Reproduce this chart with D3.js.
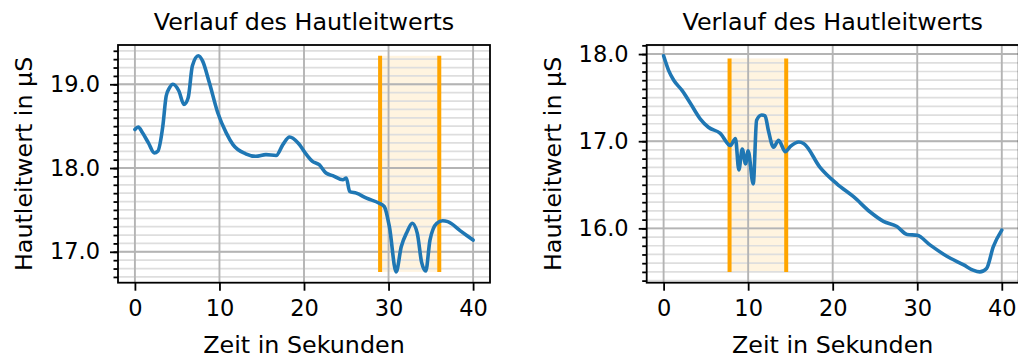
<!DOCTYPE html>
<html>
<head>
<meta charset="utf-8">
<script src="https://cdn.jsdelivr.net/npm/d3@7"></script>
<style>
  body { margin: 0; background: #fff; }
  text { font-family: "DejaVu Sans", sans-serif; fill: #000; }
</style>
</head>
<body>
<svg id="chart" width="1018" height="358"></svg>
<script>
// Werte
const xTicks = [0, 10, 20, 30, 40];

// linker Plot
const leftTime  = [0, 0.4, 0.9, 1.6, 2.3, 2.7, 3.3, 3.7, 4.1, 4.5, 5.2, 5.8, 6.3, 6.8, 7.5, 8.0, 8.8, 9.8, 10.8, 11.6, 13.1, 14.3, 15.5, 16.7, 17.5, 18.3, 19.3, 20.3, 21.0, 21.8, 22.6, 23.4, 24.6, 25.0, 25.4, 26.2, 27.4, 28.9, 29.5, 30.1, 30.9, 31.5, 32.2, 32.8, 33.4, 33.9, 34.4, 34.9, 35.7, 36.4, 37.0, 38.5, 40];
const leftValue = [18.46, 18.49, 18.42, 18.30, 18.18, 18.20, 18.50, 18.86, 18.96, 19.00, 18.92, 18.76, 18.84, 19.22, 19.34, 19.28, 19.02, 18.66, 18.42, 18.28, 18.17, 18.14, 18.16, 18.15, 18.28, 18.37, 18.30, 18.16, 18.08, 18.04, 17.94, 17.91, 17.86, 17.88, 17.72, 17.70, 17.64, 17.58, 17.54, 17.30, 16.76, 17.06, 17.24, 17.34, 17.22, 16.88, 16.77, 17.14, 17.34, 17.37, 17.36, 17.25, 17.14];
const leftYTicks = [17.0, 18.0, 19.0];
const leftMarks = [29, 36];
const leftSpan = [16.76, 19.34];

// rechter Plot
const rightTime  = [0, 0.6, 1.2, 2.2, 3.2, 4.3, 5.3, 6.7, 7.9, 8.5, 8.9, 9.3, 9.7, 10.0, 10.6, 11.0, 11.6, 12.0, 12.4, 13.0, 13.6, 14.4, 15.0, 16.0, 16.6, 18.5, 20.5, 22.5, 24.4, 26.0, 27.6, 28.8, 30.0, 31.5, 33.5, 35.5, 36.6, 37.4, 38.2, 39.0, 40];
const rightValue = [17.98, 17.81, 17.70, 17.58, 17.43, 17.26, 17.16, 17.09, 16.95, 17.03, 16.67, 16.91, 16.74, 16.89, 16.51, 17.24, 17.30, 17.29, 17.12, 16.93, 17.01, 16.88, 16.94, 16.99, 16.97, 16.70, 16.51, 16.36, 16.19, 16.08, 16.02, 15.93, 15.92, 15.81, 15.68, 15.58, 15.52, 15.50, 15.54, 15.79, 15.98];
const rightYTicks = [16.0, 17.0, 18.0];
const rightMarks = [7.8, 14.5];
const rightSpan = [15.50, 17.95];

const svg = d3.select("#chart");

function padded(ext) {
    const p = (ext[1] - ext[0]) * 0.05;
    return [ext[0] - p, ext[1] + p];
}

function drawPanel(left, time, value, yTicks, marks, span) {
    const w = 372, top = 45, bottom = 282.7;
    const right = left + w;
    const x = d3.scaleLinear().domain(padded(d3.extent(time))).range([left, right]);
    const y = d3.scaleLinear().domain(padded(d3.extent(value))).range([bottom, top]);
    const g = svg.append("g");

    // Markierter Bereich
    g.append("rect")
        .attr("x", x(marks[0]))
        .attr("y", y(span[1]))
        .attr("width", x(marks[1]) - x(marks[0]))
        .attr("height", y(span[0]) - y(span[1]))
        .style("fill", "orange")
        .style("opacity", 0.12);

    // Nebengitter
    const minor = d3.range(Math.ceil(y.domain()[0] * 10), Math.floor(y.domain()[1] * 10) + 1).map(d => d / 10);
    g.selectAll(".minor-grid")
        .data(minor)
        .join("line")
        .attr("x1", left).attr("x2", right)
        .attr("y1", d => y(d)).attr("y2", d => y(d))
        .style("stroke", "#dedede")
        .style("stroke-width", 1.7);

    // Hauptgitter
    g.selectAll(".ygrid")
        .data(yTicks)
        .join("line")
        .attr("x1", left).attr("x2", right)
        .attr("y1", d => y(d)).attr("y2", d => y(d))
        .style("stroke", "#b4b4b4")
        .style("stroke-width", 1.9);
    g.selectAll(".xgrid")
        .data(xTicks)
        .join("line")
        .attr("x1", d => x(d)).attr("x2", d => x(d))
        .attr("y1", top).attr("y2", bottom)
        .style("stroke", "#b4b4b4")
        .style("stroke-width", 1.9);

    // orange Linien
    g.selectAll(".mark")
        .data(marks)
        .join("line")
        .attr("x1", d => x(d)).attr("x2", d => x(d))
        .attr("y1", y(span[0])).attr("y2", y(span[1]))
        .style("stroke", "orange")
        .style("stroke-width", 4);

    const line = d3.line()
        .x(d => x(d[0]))
        .y(d => y(d[1]))
        .curve(d3.curveMonotoneX);

    g.append("path")
        .datum(d3.zip(time, value))
        .attr("d", line)
        .style("fill", "none")
        .style("stroke", "#1f77b4")
        .style("stroke-width", 3.6)
        .style("stroke-linejoin", "round")
        .style("stroke-linecap", "round");

    // Rahmen
    g.append("rect")
        .attr("x", left).attr("y", top)
        .attr("width", w).attr("height", bottom - top)
        .style("fill", "none")
        .style("stroke", "#000")
        .style("stroke-width", 1.8);

    // Achsen
    const xAxis = g.append("g")
        .attr("transform", `translate(0,${bottom})`)
        .call(d3.axisBottom(x).tickValues(xTicks).tickSize(8).tickPadding(9).tickFormat(d3.format("d")));
    const yAxis = g.append("g")
        .attr("transform", `translate(${left},0)`)
        .call(d3.axisLeft(y).tickValues(yTicks).tickSize(8).tickPadding(10).tickFormat(d3.format(".1f")));
    g.append("g")
        .attr("transform", `translate(${left},0)`)
        .call(d3.axisLeft(y).tickValues(minor).tickSize(4.5).tickFormat(""));

    g.selectAll(".domain").remove();
    g.selectAll(".tick line").style("stroke", "#000").style("stroke-width", 1.8);
    xAxis.selectAll("text").style("font-size", "22.5px").style("font-family", "DejaVu Sans");
    yAxis.selectAll("text").style("font-size", "22.5px").style("font-family", "DejaVu Sans");

    // Beschriftungen
    g.append("text")
        .attr("x", (left + right) / 2)
        .attr("y", 30)
        .attr("text-anchor", "middle")
        .style("font-size", "23.8px")
        .text("Verlauf des Hautleitwerts");

    g.append("text")
        .attr("x", (left + right) / 2)
        .attr("y", 352.5)
        .attr("text-anchor", "middle")
        .style("font-size", "23.8px")
        .text("Zeit in Sekunden");

    g.append("text")
        .attr("transform", `translate(${left - 86},${(top + bottom) / 2}) rotate(-90)`)
        .attr("text-anchor", "middle")
        .style("font-size", "23.8px")
        .text("Hautleitwert in µS");
}

drawPanel(118, leftTime, leftValue, leftYTicks, leftMarks, leftSpan);
drawPanel(646.7, rightTime, rightValue, rightYTicks, rightMarks, rightSpan);
</script>
</body>
</html>
